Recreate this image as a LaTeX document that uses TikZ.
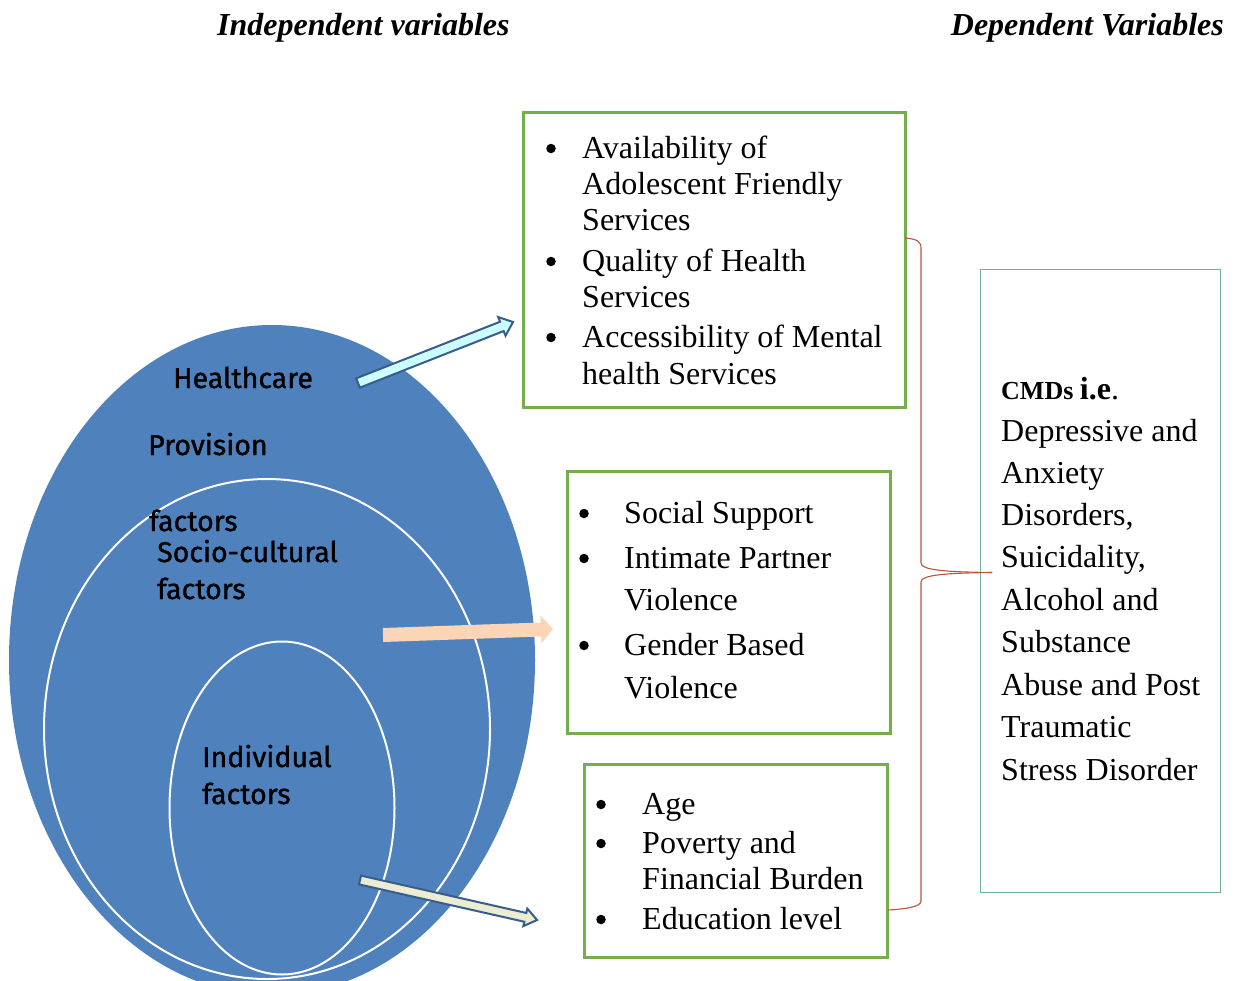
\documentclass[tikz,border=0pt]{standalone}
\usepackage{fontspec}
\setmainfont{Liberation Serif}
\newfontfamily\labelfont{Fira Sans}[FakeBold=1.2]
\usetikzlibrary{shapes.geometric}
\definecolor{disc}{HTML}{4F81BD}
\definecolor{boxgreen}{HTML}{75AE4A}
\definecolor{boxteal}{HTML}{6FAF9E}
\definecolor{bracecol}{HTML}{B8553D}
\definecolor{arrowedge}{HTML}{385D8A}
\definecolor{cyanfill}{HTML}{CCFFFF}
\definecolor{peachfill}{HTML}{FBD5B5}
\definecolor{beigefill}{HTML}{EBECD2}
% block arrow: style, tail point, angle, length, shaft half width, head half width
\newcommand\blockarrow[6]{%
  \begin{scope}[shift={#2}, rotate=#3]
    \path[#1] (0,-#5) -- ({#4-12},-#5) -- ({#4-12},-#6) -- (#4,0)
      -- ({#4-12},#6) -- ({#4-12},#5) -- (0,#5) -- cycle;
  \end{scope}}
\begin{document}
\begin{tikzpicture}[x=1pt,y=-1pt,
  item/.style={anchor=base west, inner sep=0pt, font=\fontsize{32}{36}\selectfont},
  dot/.style={circle, fill=black, inner sep=0pt, minimum size=9.5pt},
  lbl/.style={anchor=base west, inner sep=0pt, font=\labelfont\fontsize{28.5}{30}\selectfont},
  head/.style={anchor=base, inner sep=0pt, font=\bfseries\itshape\fontsize{32}{36}\selectfont},
  greenbox/.style={draw=boxgreen, line width=2.6pt, anchor=north west, inner sep=0pt},
  tealbox/.style={draw=boxteal, line width=1.4pt, anchor=north west, inner sep=0pt},
  ring/.style={ellipse, draw=white, line width=2pt, inner sep=0pt},
  bracepath/.style={draw=bracecol, line width=1.1pt}]
\useasboundingbox[fill=white] (0,0) rectangle (1241,980);

% headings
\node[head, anchor=base west] (hin) at (217,35.5) {Independent variables};
\node[head, anchor=base east] (hdep) at (1224,35.5) {Dependent Variables};

% nested factor discs
\node[ellipse, fill=disc, inner sep=0pt, minimum width=526pt, minimum height=670pt] (outer) at (272,660) {};
\node[ring, minimum width=446pt, minimum height=500pt] (middle) at (267,729) {};
\node[ring, minimum width=225pt, minimum height=333pt] (inner) at (282,808) {};

\node[lbl] (l1) at (173,388) {Healthcare};
\node[lbl] (l2) at (148,455) {Provision};
\node[lbl] (l3) at (149,531) {factors};
\node[lbl] (l4) at (157,562) {Socio-cultural};
\node[lbl] (l5) at (157,599) {factors};
\node[lbl] (l6) at (202,767) {Individual};
\node[lbl] (l7) at (202,804) {factors};

% boxes of indicators
\node[greenbox, minimum width=382pt, minimum height=295pt] (b1) at (522,111) {};
\node[greenbox, minimum width=323pt, minimum height=262pt] (b2) at (566,470) {};
\node[greenbox, minimum width=303pt, minimum height=193pt] (b3) at (583,763) {};
\node[tealbox, minimum width=240pt, minimum height=623pt] (b4) at (980,269) {};

% box 1
\node[dot] at (551,148.5) {};
\node[item] at (582,158.5) {Availability of};
\node[item] at (582,194.5) {Adolescent Friendly};
\node[item] at (582,230.5) {Services};
\node[dot] at (551,261.5) {};
\node[item] at (582,271.5) {Quality of Health};
\node[item] at (582,307.5) {Services};
\node[dot] at (551,337.5) {};
\node[item] at (582,347.5) {Accessibility of Mental};
\node[item] at (582,384.5) {health Services};

% box 2
\node[dot] at (584,513.5) {};
\node[item] at (624,523.5) {Social Support};
\node[dot] at (584,558.5) {};
\node[item] at (624,568.5) {Intimate Partner};
\node[item] at (624,610.5) {Violence};
\node[dot] at (584,645.5) {};
\node[item] at (624,655.5) {Gender Based};
\node[item] at (624,698.5) {Violence};

% box 3
\node[dot] at (601,804.5) {};
\node[item] at (642,814.5) {Age};
\node[dot] at (601,843.5) {};
\node[item] at (642,853.5) {Poverty and};
\node[item] at (642,889.5) {Financial Burden};
\node[dot] at (601,919.5) {};
\node[item] at (642,929.5) {Education level};

% box 4
\node[item] at (1001,399) {{\bfseries\fontsize{26}{30}\selectfont CMDs }{\bfseries i.e}.};
\node[item] at (1001,441.5) {Depressive and};
\node[item] at (1001,483.5) {Anxiety};
\node[item] at (1001,525.5) {Disorders,};
\node[item] at (1001,567.5) {Suicidality,};
\node[item] at (1001,610.5) {Alcohol and};
\node[item] at (1001,652.5) {Substance};
\node[item] at (1001,695.5) {Abuse and Post};
\node[item] at (1001,737.5) {Traumatic};
\node[item] at (1001,780.5) {Stress Disorder};

% arrows from the discs to the boxes
\blockarrow{fill=cyanfill, draw=arrowedge, line width=2pt, line join=miter}{(358,383)}{21.48}{166.6}{5}{10}
\blockarrow{fill=peachfill}{(383,635)}{2.0}{170}{7}{14}
\blockarrow{fill=beigefill, draw=arrowedge, line width=2pt, line join=miter}{(360,880)}{-12.73}{181.5}{4.5}{9}

% brace joining the indicators to the outcomes
\coordinate (btop) at (905,238);
\coordinate (btip) at (992,572.5);
\coordinate (bbot) at (888,910);
\draw[bracepath] (btop) .. controls (916,239) and (921,241) .. (921,248)
  -- (921,563) .. controls (921,570) and (945,572) .. (btip);
\draw[bracepath] (btip) .. controls (945,573) and (921,575) .. (921,582)
  -- (921,901) .. controls (921,907) and (905,909) .. (bbot);
\end{tikzpicture}
\end{document}
